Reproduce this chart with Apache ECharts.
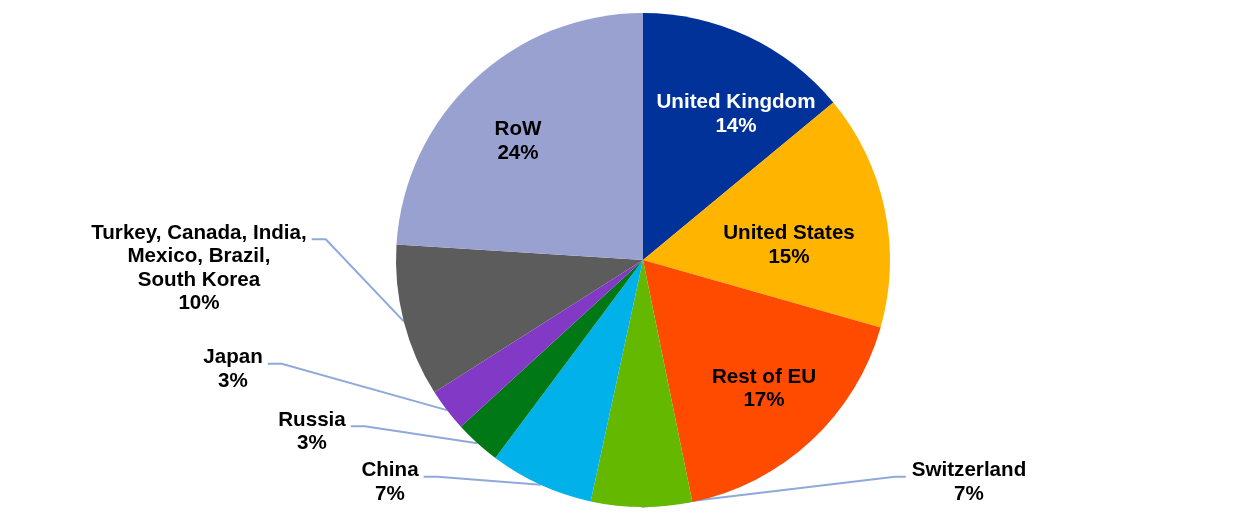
<!DOCTYPE html>
<html><head><meta charset="utf-8">
<script src="https://cdn.jsdelivr.net/npm/echarts@6/dist/echarts.min.js"></script>
<style>html,body{margin:0;padding:0;background:#fff}#c{width:1240px;height:518px}</style>
</head><body><div id="c"></div>
<script>
// ---- data ----
const categories = ['United Kingdom', 'United States', 'Rest of EU', 'Switzerland', 'China', 'Russia', 'Japan',
  'Turkey, Canada, India,\nMexico, Brazil,\nSouth Korea', 'RoW'];
const shares = [14.0, 15.4, 17.4, 6.6, 6.8, 3.0, 2.8, 10.0, 24.0];

// ---- styling / layout ----
const sliceColors = ['#003299', '#FFB400', '#FF4B00', '#65B800', '#00B1EA', '#007816', '#8139C6', '#5C5C5C', '#98A1D0'];
const labelColors = ['#ffffff', '#000000', '#000000', '#000000', '#000000', '#000000', '#000000', '#000000', '#000000'];
const labelCenters = [[736, 114.5], [789, 245.5], [764, 389], [969, 482.5], [390, 482.5], [312, 432], [233, 369.5], [199, 268.5], [518, 141.5]];
const outside = [false, false, false, true, true, true, true, true, false];
const lineH = 23.5;

const chart = echarts.init(document.getElementById('c'), null, { renderer: 'canvas' });
chart.setOption({
  animation: false,
  backgroundColor: '#ffffff',
  series: [{
    type: 'pie',
    center: [643, 260],
    radius: 247,
    startAngle: 90,
    clockwise: true,
    avoidLabelOverlap: false,
    itemStyle: { borderWidth: 0 },
    label: {
      show: true,
      position: 'outside',
      fontFamily: 'Liberation Sans, Arial, sans-serif',
      fontWeight: 'bold',
      fontSize: 20.6,
      lineHeight: lineH,
      align: 'center',
      formatter: p => p.name + '\n' + Math.round(p.percent) + '%'
    },
    labelLine: {
      show: true,
      length: 20,
      length2: 10,
      lineStyle: { color: '#8EA9DB', width: 2 }
    },
    labelLayout: function (params) {
      const i = params.dataIndex;
      const c = labelCenters[i];
      const w = params.labelRect.width, h = params.labelRect.height;
      const res = { x: c[0], y: c[1], align: 'center', verticalAlign: 'middle' };
      if (outside[i] && params.labelLinePoints) {
        const anchor = params.labelLinePoints[0];
        const ly = c[1] - h / 2 + lineH / 2 + 6;
        let turnX, endX;
        if (c[0] > 643) { endX = c[0] - w / 2 - 6; turnX = endX - 11; }
        else { endX = c[0] + w / 2 + 5; turnX = endX + 14; }
        res.labelLinePoints = [anchor, [turnX, ly], [endX, ly]];
      }
      return res;
    },
    data: categories.map((name, i) => ({
      name: name,
      value: shares[i],
      itemStyle: { color: sliceColors[i] },
      label: { color: labelColors[i], position: outside[i] ? 'outside' : 'inside' },
      labelLine: { show: outside[i] }
    }))
  }]
});
</script>
</body></html>
